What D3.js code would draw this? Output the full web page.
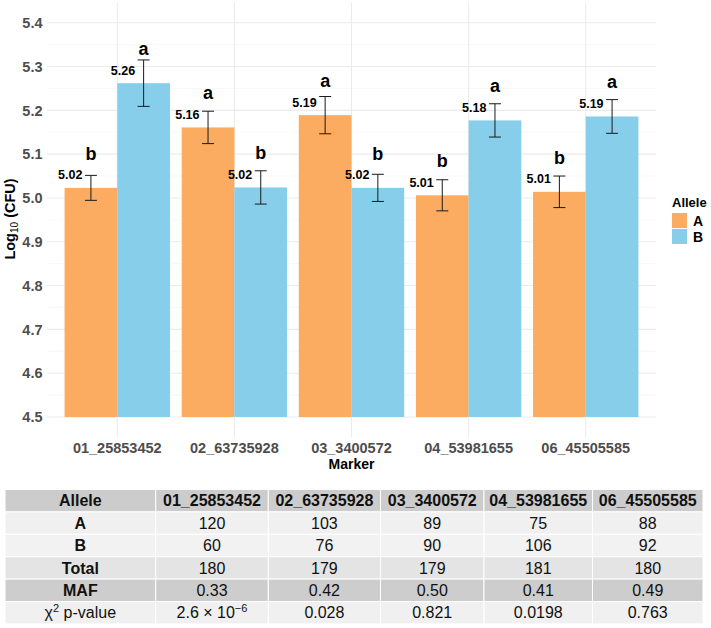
<!DOCTYPE html>
<html>
<head>
<meta charset="utf-8">
<script src="https://cdn.jsdelivr.net/npm/d3@7"></script>
<style>
  body { margin: 0; background: #fff; }
  svg { display: block; font-family: 'Liberation Sans', Arial, sans-serif; }
</style>
</head>
<body>
<div id="chart"></div>
<script>
const markers = ['01_25853452', '02_63735928', '03_3400572', '04_53981655', '06_45505585'];
const alleles = ['A', 'B'];
const meanA = [5.023, 5.161, 5.189, 5.006, 5.014];
const meanB = [5.262, 5.024, 5.023, 5.177, 5.186];
const seA = [0.0285, 0.037, 0.0425, 0.0355, 0.036];
const seB = [0.053, 0.038, 0.031, 0.038, 0.0385];
const lettersA = ['b', 'a', 'a', 'b', 'b'];
const lettersB = ['a', 'b', 'b', 'a', 'a'];
const yTicks = [4.5, 4.6, 4.7, 4.8, 4.9, 5.0, 5.1, 5.2, 5.3, 5.4];

// table below the chart
const countA = ['120', '103', '89', '75', '88'];
const countB = ['60', '76', '90', '106', '92'];
const countTotal = ['180', '179', '179', '181', '180'];
const maf = ['0.33', '0.42', '0.50', '0.41', '0.49'];
const pValues = ['2.6e-6', '0.028', '0.821', '0.0198', '0.763'];

const colors = { A: '#FCAC60', B: '#87CEEB' };
const width = 711, height = 628;

const svg = d3.select('#chart').append('svg').attr('width', width).attr('height', height);

const bars = [];
markers.forEach((m, i) => {
  bars.push({ marker: m, allele: 'A', mean: meanA[i], se: seA[i], letter: lettersA[i] });
  bars.push({ marker: m, allele: 'B', mean: meanB[i], se: seB[i], letter: lettersB[i] });
});

const panel = { left: 47, right: 656, top: 3, bottom: 436.7 };

const x = d3.scaleBand().domain(markers).range([panel.left, panel.right]).paddingInner(0.1).paddingOuter(0.15);
const xa = d3.scaleBand().domain(alleles).range([0, x.bandwidth()]);
const y = d3.scaleLinear().domain([4.455, 5.445]).range([panel.bottom, panel.top]);

// grid
const minor = d3.range(4.55, 5.4, 0.1);
svg.append('g').selectAll('line').data(minor).enter().append('line')
  .attr('x1', panel.left).attr('x2', panel.right)
  .attr('y1', d => y(d)).attr('y2', d => y(d))
  .style('stroke', '#f2f2f2').style('stroke-width', 0.6);
svg.append('g').selectAll('line').data(yTicks).enter().append('line')
  .attr('x1', panel.left).attr('x2', panel.right)
  .attr('y1', d => y(d)).attr('y2', d => y(d))
  .style('stroke', '#ebebeb').style('stroke-width', 1.1);
svg.append('g').selectAll('line').data(markers).enter().append('line')
  .attr('x1', d => x(d) + x.bandwidth() / 2).attr('x2', d => x(d) + x.bandwidth() / 2)
  .attr('y1', panel.top).attr('y2', panel.bottom)
  .style('stroke', '#ebebeb').style('stroke-width', 1.1);

const cx = d => x(d.marker) + xa(d.allele) + xa.bandwidth() / 2;

svg.append('g').selectAll('rect').data(bars).enter().append('rect')
  .attr('x', d => x(d.marker) + xa(d.allele))
  .attr('width', xa.bandwidth())
  .attr('y', d => y(d.mean))
  .attr('height', d => y(4.5) - y(d.mean))
  .style('fill', d => colors[d.allele]);

// error bars
const err = svg.append('g').style('stroke', '#1a1a1a').style('stroke-width', 1);
err.selectAll('.v').data(bars).enter().append('line')
  .attr('x1', cx).attr('x2', cx)
  .attr('y1', d => y(d.mean + d.se)).attr('y2', d => y(d.mean - d.se));
err.selectAll('.t').data(bars).enter().append('line')
  .attr('x1', d => cx(d) - 6).attr('x2', d => cx(d) + 6)
  .attr('y1', d => y(d.mean + d.se)).attr('y2', d => y(d.mean + d.se));
err.selectAll('.b').data(bars).enter().append('line')
  .attr('x1', d => cx(d) - 6).attr('x2', d => cx(d) + 6)
  .attr('y1', d => y(d.mean - d.se)).attr('y2', d => y(d.mean - d.se));

// value labels and letters
svg.append('g').selectAll('text').data(bars).enter().append('text')
  .attr('x', d => cx(d) - 8.5)
  .attr('y', d => y(d.mean) - 13)
  .attr('dy', '0.35em')
  .attr('text-anchor', 'end')
  .style('font-size', '12.5px').style('font-weight', 'bold').style('fill', '#000')
  .text(d => d3.format('.2f')(d.mean));
svg.append('g').selectAll('text').data(bars).enter().append('text')
  .attr('x', cx)
  .attr('y', d => y(d.mean) - 28)
  .attr('text-anchor', 'middle')
  .style('font-size', '18px').style('font-weight', 'bold').style('fill', '#000')
  .text(d => d.letter);

// axes labels
svg.append('g').selectAll('text').data(yTicks).enter().append('text')
  .attr('x', 42.5).attr('y', d => y(d)).attr('dy', '0.36em')
  .attr('text-anchor', 'end')
  .style('font-size', '14.5px').style('font-weight', 'bold').style('fill', '#4d4d4d')
  .text(d => d3.format('.1f')(d));
svg.append('g').selectAll('text').data(markers).enter().append('text')
  .attr('x', d => x(d) + x.bandwidth() / 2).attr('y', 453)
  .attr('text-anchor', 'middle')
  .style('font-size', '14.5px').style('font-weight', 'bold').style('fill', '#4d4d4d')
  .text(d => d);
svg.append('text')
  .attr('x', (panel.left + panel.right) / 2).attr('y', 469)
  .attr('text-anchor', 'middle')
  .style('font-size', '14px').style('font-weight', 'bold')
  .text('Marker');
const yTitle = svg.append('text')
  .attr('transform', 'translate(15,219) rotate(-90)')
  .attr('text-anchor', 'middle')
  .style('font-size', '14.5px').style('font-weight', 'bold');
yTitle.append('tspan').text('Log');
yTitle.append('tspan').attr('dy', 3).style('font-size', '10px').style('font-weight', 'normal').text('10');
yTitle.append('tspan').attr('dy', -3).text(' (CFU)');

// legend
const legend = svg.append('g');
legend.append('text').attr('x', 672).attr('y', 207)
  .style('font-size', '13px').style('font-weight', 'bold').text('Allele');
legend.selectAll('rect').data(alleles).enter().append('rect')
  .attr('x', 672).attr('y', (d, i) => 213 + i * 16)
  .attr('width', 15).attr('height', 15)
  .style('fill', d => colors[d]);
legend.selectAll('.lab').data(alleles).enter().append('text')
  .attr('x', 693).attr('y', (d, i) => 220.5 + i * 16).attr('dy', '0.36em')
  .style('font-size', '14px').style('font-weight', 'bold').text(d => d);

// table
const colEdges = [5, 155.7, 268.3, 380.5, 484, 592.5, 703];
const rowTop = 489.5, rowH = 22.4;
const rows = [
  { label: 'Allele', cells: markers, fill: '#cccccc', head: true },
  { label: 'A', cells: countA, fill: '#f0f0f0' },
  { label: 'B', cells: countB, fill: '#f2f2f2' },
  { label: 'Total', cells: countTotal, fill: '#e4e4e4' },
  { label: 'MAF', cells: maf, fill: '#cdcdcd' },
  { label: 'chi', cells: pValues, fill: '#f0f0f0' }
];
const table = svg.append('g');
rows.forEach((row, r) => {
  const top = rowTop + r * rowH;
  const vals = [row.label, ...row.cells];
  vals.forEach((v, c) => {
    table.append('rect')
      .attr('x', colEdges[c]).attr('y', top)
      .attr('width', colEdges[c + 1] - colEdges[c]).attr('height', rowH)
      .style('fill', row.fill).style('stroke', '#fff').style('stroke-width', 1);
    const t = table.append('text')
      .attr('x', (colEdges[c] + colEdges[c + 1]) / 2)
      .attr('y', top + rowH / 2).attr('dy', '0.36em')
      .attr('text-anchor', 'middle')
      .style('font-size', row.head ? '16px' : '16px')
      .style('fill', '#111')
      .style('font-weight', row.head || (c === 0 && v !== 'chi') ? 'bold' : 'normal');
    if (v === 'chi') {
      t.append('tspan').text('\u03c7');
      t.append('tspan').attr('dy', -6).style('font-size', '11px').text('2');
      t.append('tspan').attr('dy', 6).text(' p-value');
    } else if (v.includes('e-')) {
      const [m, e] = v.split('e');
      t.append('tspan').text(m + ' \u00d7 10');
      t.append('tspan').attr('dy', -6).style('font-size', '11px').text(e.replace('-', '\u2212'));
    } else {
      t.text(v);
    }
  });
});
</script>
</body>
</html>
